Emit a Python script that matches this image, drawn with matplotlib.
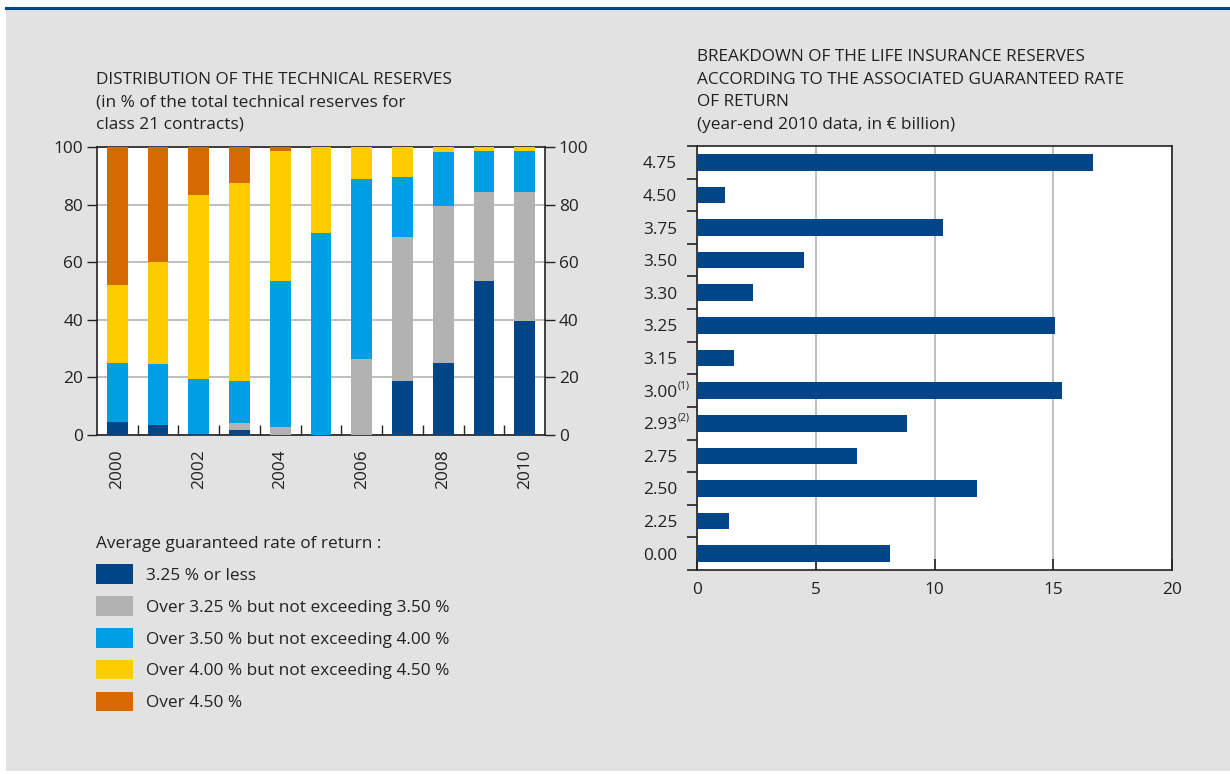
import matplotlib
matplotlib.use('Agg')
import matplotlib.pyplot as plt
import numpy as np
from matplotlib.patches import Patch, Rectangle
from matplotlib.lines import Line2D

FS = 12.4
plt.rcParams['font.family'] = ['Open Sans', 'DejaVu Sans']
plt.rcParams['font.size'] = FS
plt.rcParams['text.color'] = '#222222'
plt.rcParams['xtick.color'] = '#222222'
plt.rcParams['ytick.color'] = '#222222'

# share of class 21 technical reserves per guaranteed-rate band, bottom to top
years = [2000, 2001, 2002, 2003, 2004, 2005, 2006, 2007, 2008, 2009, 2010]
rate_le_325 = [4.6, 3.5, 0.4, 1.7, 0.0, 0.0, 0.0, 18.7, 25.0, 53.4, 39.5]
rate_325_350 = [0.0, 0.0, 0.0, 2.6, 2.8, 0.0, 26.4, 50.0, 54.4, 30.9, 44.8]
rate_350_400 = [20.4, 21.1, 19.0, 14.4, 50.6, 70.2, 62.4, 20.8, 18.9, 14.3, 14.3]
rate_400_450 = [27.0, 35.4, 63.8, 68.7, 45.1, 29.8, 11.2, 10.5, 1.7, 1.4, 1.4]
rate_gt_450 = [48.0, 40.0, 16.8, 12.6, 1.5, 0.0, 0.0, 0.0, 0.0, 0.0, 0.0]

band_labels = [
    '3.25 % or less',
    'Over 3.25 % but not exceeding 3.50 %',
    'Over 3.50 % but not exceeding 4.00 %',
    'Over 4.00 % but not exceeding 4.50 %',
    'Over 4.50 %',
]
band_colors = ['#004587', '#b2b2b2', '#009fe3', '#ffcc00', '#d66a00']

# life insurance reserves by guaranteed rate, year-end 2010, EUR billion
rates = ['4.75', '4.50', '3.75', '3.50', '3.30', '3.25', '3.15',
         '3.00', '2.93', '2.75', '2.50', '2.25', '0.00']
reserves = [16.65, 1.16, 10.33, 4.48, 2.33, 15.05, 1.53,
            15.35, 8.83, 6.72, 11.80, 1.32, 8.11]
rate_notes = {'3.00': '(1)', '2.93': '(2)'}

W, H = 1230, 774
fig = plt.figure(figsize=(W / 100, H / 100), dpi=100)
fig.patch.set_facecolor('white')


def fx(px):
    return px / W


def fy(py):
    return 1 - py / H


# panel background and top rule
fig.add_artist(Rectangle((fx(6), 0.004), 1 - fx(6), fy(9) - 0.004,
                         transform=fig.transFigure, facecolor='#e2e2e2', edgecolor='none', zorder=0))
fig.add_artist(Line2D([fx(6), 1], [fy(8), fy(8)], transform=fig.transFigure,
                      color='#004587', lw=2.2, zorder=1))

# ---- left panel: stacked shares
ax = fig.add_axes([fx(97), fy(435), fx(545) - fx(97), fy(147) - fy(435)])
ax.set_facecolor('white')
x = np.arange(len(years))
bottom = np.zeros(len(years))
for vals, col in zip([rate_le_325, rate_325_350, rate_350_400, rate_400_450, rate_gt_450], band_colors):
    ax.bar(x, vals, width=0.51, bottom=bottom, color=col, zorder=3)
    bottom += np.array(vals)

ax.set_xlim(-0.5, len(years) - 0.5)
ax.set_ylim(0, 100)
ax.set_yticks(range(0, 101, 20))
ax.grid(axis='y', color='#b4b4b4', lw=1.2, zorder=1)
ax.tick_params(axis='y', direction='out', length=7, width=1, pad=3,
               right=True, labelright=True)
for t in ax.yaxis.get_major_ticks():
    t.label2.set_horizontalalignment('left')
ax.set_xticks(x[:-1] + 0.5)
ax.set_xticklabels([])
ax.set_xticks(x[::2], minor=True)
ax.set_xticklabels([str(y) for y in years[::2]], minor=True, rotation=90)
ax.tick_params(axis='x', which='major', direction='in', length=7, width=1)
ax.tick_params(axis='x', which='minor', length=0, pad=10)
for s in ax.spines.values():
    s.set_linewidth(1.2)
    s.set_color('#222222')

left_title = ['DISTRIBUTION OF THE TECHNICAL RESERVES',
              '(in % of the total technical reserves for',
              'class 21 contracts)']
for k, line in enumerate(left_title):
    fig.text(fx(96), fy(80 + 22.3 * k), line, va='center', ha='left')

# legend below the left panel
handles = [Patch(facecolor=c, edgecolor='none') for c in band_colors]
leg = fig.legend(handles, band_labels, loc='upper left',
                 bbox_to_anchor=(fx(80), fy(520.5)), frameon=False,
                 title='Average guaranteed rate of return :', alignment='left',
                 handlelength=2.15, handleheight=1.36, handletextpad=0.8,
                 labelspacing=0.72, fontsize=FS, title_fontsize=FS)

# ---- right panel: reserves by guaranteed rate
bx = fig.add_axes([fx(697.5), fy(570), fx(1172) - fx(697.5), fy(146) - fy(570)])
bx.set_facecolor('white')
pos = np.arange(len(rates))
bx.barh(pos, reserves, height=0.51, color='#004587', zorder=3)
bx.set_ylim(len(rates) - 0.5, -0.5)
bx.set_xlim(0, 20)
bx.set_xticks([0, 5, 10, 15, 20])
bx.grid(axis='x', color='#b4b4b4', lw=1.2, zorder=1)
bx.tick_params(axis='x', direction='in', length=8, width=1.2, pad=9)
bx.set_yticks(np.arange(len(rates) + 1) - 0.5)
bx.set_yticklabels([])
bx.tick_params(axis='y', which='major', direction='out', length=7, width=1.2)
bx.set_yticks(pos, minor=True)
bx.set_yticklabels(rates, minor=True)
bx.tick_params(axis='y', which='minor', length=0, pad=39.2)
for lab in bx.get_yticklabels(minor=True):
    lab.set_horizontalalignment('left')
for i, r in enumerate(rates):
    if r in rate_notes:
        bx.annotate(rate_notes[r], xy=(0, i), xycoords=bx.get_yaxis_transform(),
                    xytext=(-14.3, 3.5), textcoords='offset points',
                    ha='left', va='center', fontsize=7.5)
for s in bx.spines.values():
    s.set_linewidth(1.2)
    s.set_color('#222222')

right_title = ['BREAKDOWN OF THE LIFE INSURANCE RESERVES',
               'ACCORDING TO THE ASSOCIATED GUARANTEED RATE',
               'OF RETURN',
               '(year-end 2010 data, in \u20ac billion)']
for k, line in enumerate(right_title):
    fig.text(fx(697), fy(57 + 22.7 * k), line, va='center', ha='left')

fig.savefig('out.png', dpi=100)
